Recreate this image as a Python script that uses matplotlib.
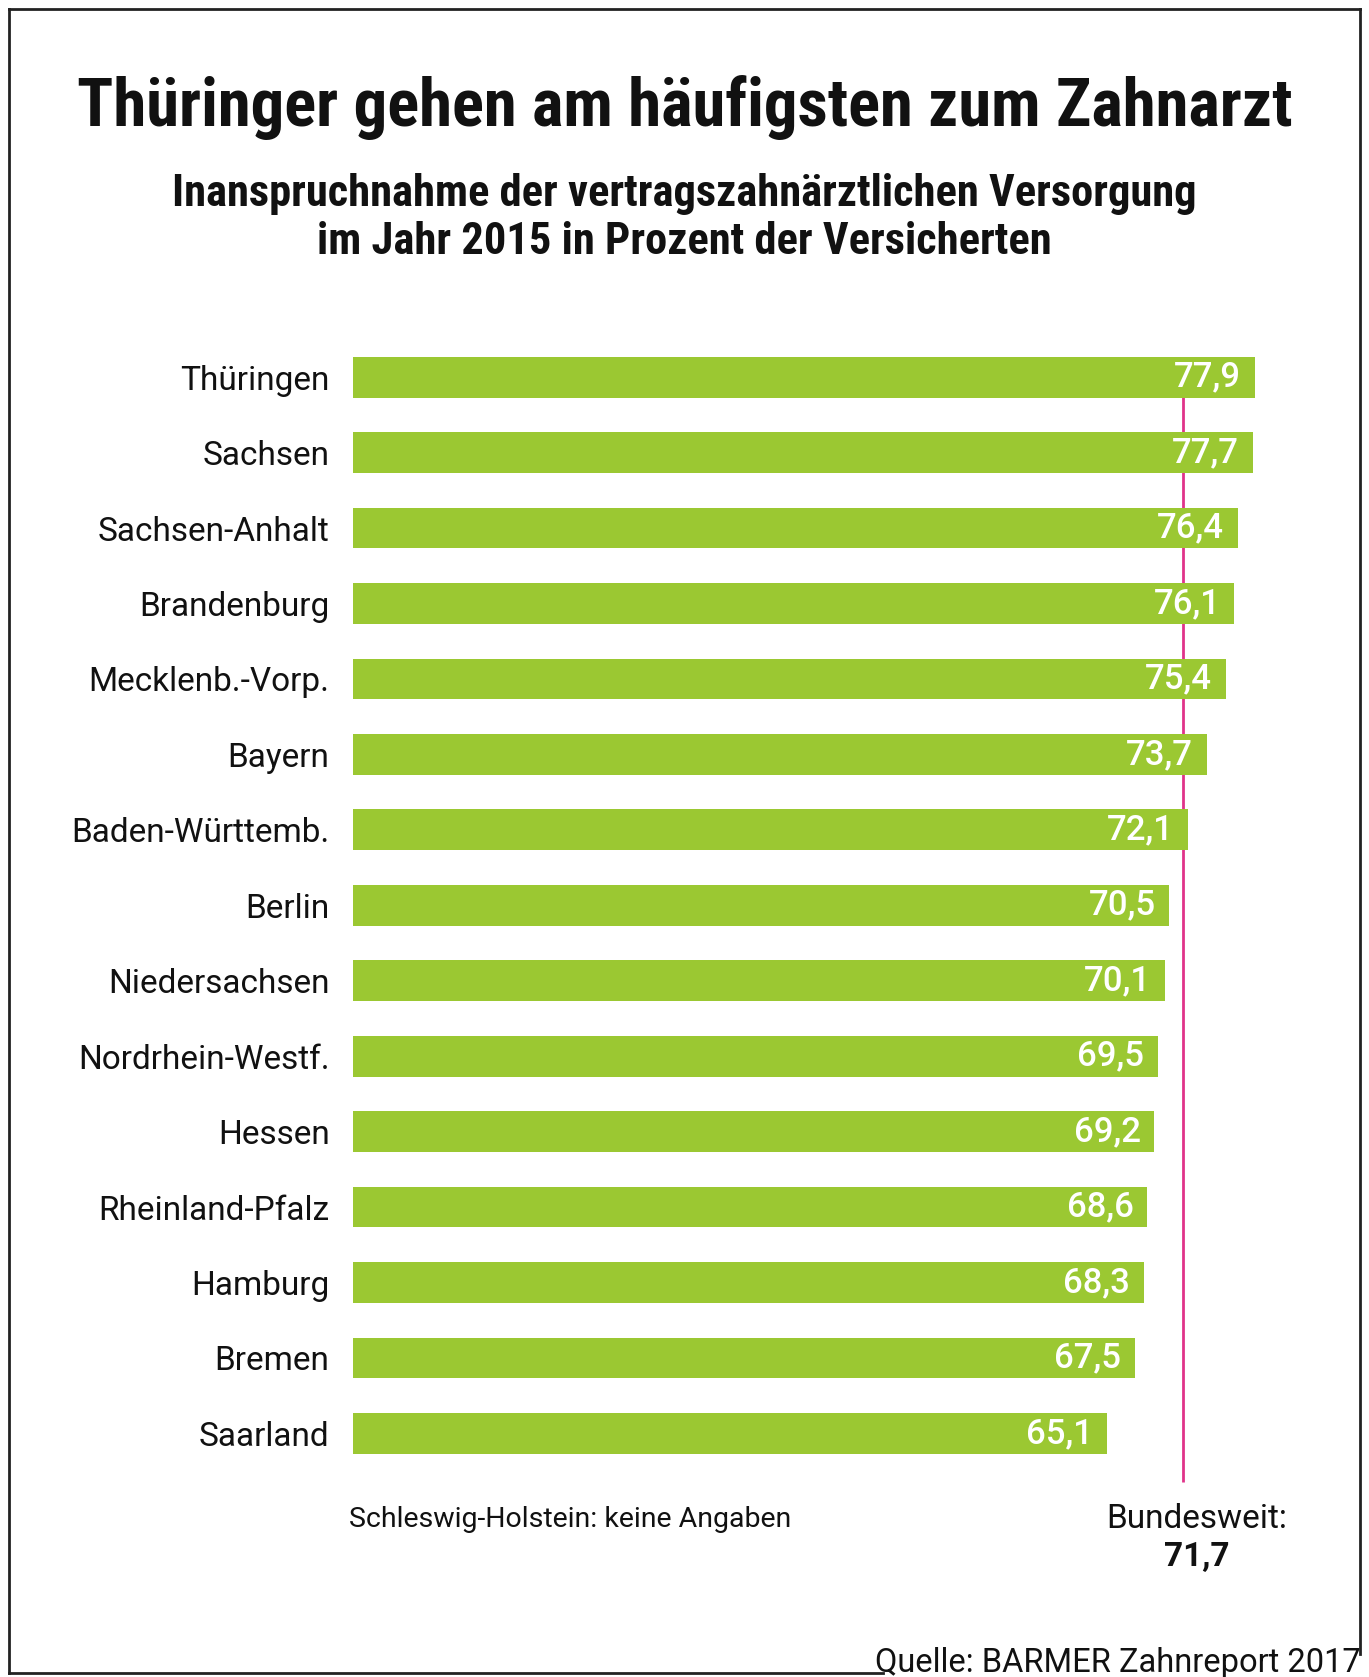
import matplotlib
matplotlib.use("Agg")
import matplotlib.pyplot as plt
from matplotlib.lines import Line2D

# data
laender = ["Thüringen", "Sachsen", "Sachsen-Anhalt", "Brandenburg", "Mecklenb.-Vorp.",
           "Bayern", "Baden-Württemb.", "Berlin", "Niedersachsen", "Nordrhein-Westf.",
           "Hessen", "Rheinland-Pfalz", "Hamburg", "Bremen", "Saarland"]
werte = [77.9, 77.7, 76.4, 76.1, 75.4, 73.7, 72.1, 70.5, 70.1, 69.5, 69.2, 68.6, 68.3, 67.5, 65.1]
bundesweit = 71.7

GREEN = "#9bc832"
PINK = "#e0338a"
INK = "#111111"
COND = ["Roboto Condensed", "DejaVu Sans"]
BODY = ["Roboto", "DejaVu Sans"]

plt.rcParams["font.family"] = BODY


def de(v):
    return f"{v:.1f}".replace(".", ",")


fig = plt.figure(figsize=(13.69, 16.77), dpi=100)
ax = fig.add_axes([0.258, 0.1138, 0.6766, 0.6838])

pos = list(range(len(laender)))
ax.barh(pos, werte, height=0.54, color=GREEN, zorder=3)
ax.vlines(bundesweit, 0, 14.64, color=PINK, lw=2, zorder=2)

for y, v in zip(pos, werte):
    ax.text(v - 1.2, y, de(v), ha="right", va="center", color="white",
            fontsize=25, fontweight="medium", family=BODY, zorder=4)

ax.set_xlim(0, 80)
ax.set_ylim(14.7, -0.5)
ax.set_yticks(pos)
ax.set_yticklabels(laender, fontsize=24, color=INK, family=BODY)
ax.tick_params(axis="y", length=0, pad=17)
ax.set_xticks([])
for s in ax.spines.values():
    s.set_visible(False)

# titles
fig.text(0.5, 0.9357, "Thüringer gehen am häufigsten zum Zahnarzt", ha="center", va="center",
         fontsize=48, fontweight="bold", color=INK, family=COND)
fig.text(0.5, 0.8843, "Inanspruchnahme der vertragszahnärztlichen Versorgung", ha="center",
         va="center", fontsize=32, fontweight="bold", color=INK, family=COND)
fig.text(0.5, 0.8554, "im Jahr 2015 in Prozent der Versicherten", ha="center",
         va="center", fontsize=32, fontweight="bold", color=INK, family=COND)

# notes
fig.text(0.255, 0.0938, "Schleswig-Holstein: keine Angaben", ha="left", va="center",
         fontsize=20.5, color=INK)
fig.text(0.874, 0.0945, "Bundesweit:", ha="center", va="center", fontsize=24, color=INK)
fig.text(0.874, 0.0713, de(bundesweit), ha="center", va="center",
         fontsize=24, fontweight="bold", color=INK)
fig.text(0.9937, 0.0085, "Quelle: BARMER Zahnreport 2017", ha="right", va="center",
         fontsize=23.5, color=INK)

# frame
kw = dict(color="#222222", lw=2, transform=fig.transFigure)
fig.add_artist(Line2D([0.0063, 0.9937], [0.9949, 0.9949], **kw))
fig.add_artist(Line2D([0.0063, 0.0063], [0.0025, 0.9949], **kw))
fig.add_artist(Line2D([0.9937, 0.9937], [0.0135, 0.9949], **kw))
fig.add_artist(Line2D([0.0063, 0.645], [0.0025, 0.0025], **kw))

fig.savefig("out.png", dpi=100, facecolor="white")
